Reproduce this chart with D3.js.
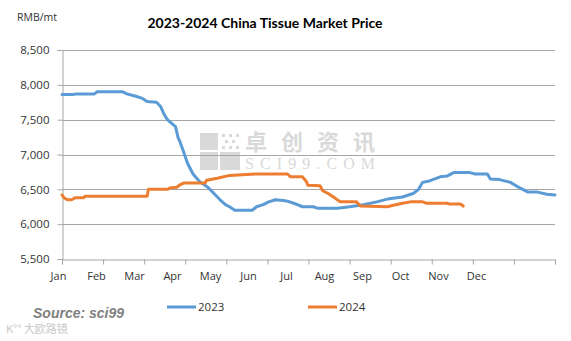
<!DOCTYPE html>
<html><head><meta charset="utf-8">
<script src="https://cdn.jsdelivr.net/npm/d3@7/dist/d3.min.js"></script>
<style>body{margin:0;background:#fff}svg{display:block}</style>
</head><body><svg id="c" width="571" height="341"></svg>
<script>
const months = ["Jan","Feb","Mar","Apr","May","Jun","Jul","Aug","Sep","Oct","Nov","Dec"];
const yTicks = [5500,6000,6500,7000,7500,8000,8500];
// day-of-year and price (RMB/mt)
const days2023 = [0,8,10,24,26,45,48,54,59,63,70,73,75,78,81,84,86,87,90,93,97,102,108,112,117,121,124,128,141,144,149,153,158,164,167,173,178,186,189,204,213,223,233,241,252,260,264,267,272,280,285,290,302,306,315,317,324,332,339,345,352,359,365];
const price2023 = [7860,7860,7870,7870,7900,7900,7870,7840,7810,7760,7750,7690,7600,7500,7450,7400,7240,7200,7040,6870,6720,6610,6530,6450,6350,6280,6250,6200,6200,6250,6280,6320,6350,6340,6330,6290,6250,6250,6230,6230,6250,6280,6320,6360,6390,6440,6500,6600,6620,6680,6690,6740,6740,6720,6720,6650,6640,6600,6520,6460,6460,6430,6420];
const days2024 = [0,1.5,4,7,10,16,17,63,64,78,80,85,87,90,106,107,115,124,143,167,169,178,181,182,191,193,197,201,206,218,221,241,243,252,258,267,270,285,287,295,297];
const price2024 = [6420,6380,6350,6350,6380,6380,6400,6400,6500,6500,6520,6530,6560,6590,6590,6630,6660,6700,6720,6720,6680,6680,6610,6560,6550,6480,6440,6390,6320,6320,6260,6250,6260,6300,6320,6320,6300,6300,6290,6290,6260];
const seriesNames = ["2023","2024"];
const colors = ["#5B9BD5","#ED7D31"];

const svg = d3.select("#c");
const L=62,R=555,T=50,B=259;
const x = d3.scaleLinear().domain([0,365]).range([L,R]);
const xLab = d3.scalePoint().domain(months).range([58,476]);
const y = d3.scaleLinear().domain([5500,8500]).range([B,T]);
const font = "'Open Sans', sans-serif";

// watermark
const wm = svg.append("g").attr("fill","#d9d9d9");
[[200,133,18,17],[200,152,18,18],[220,152,20,18]].forEach(r=>wm.append("rect").attr("x",r[0]).attr("y",r[1]).attr("width",r[2]).attr("height",r[3]));
[[222,134],[229,134],[236,134],[225,140],[232,140],[222,146],[236,146],[229,146]].forEach(p=>wm.append("rect").attr("x",p[0]).attr("y",p[1]).attr("width",3).attr("height",3));
wm.append("text").attr("x",245).attr("y",150).attr("font-family","'Noto Sans CJK SC'").attr("font-size",22).attr("font-weight","bold").attr("textLength",130).text("卓创资讯");
wm.append("text").attr("x",245).attr("y",169).attr("font-family","'Liberation Serif', serif").attr("font-size",16).attr("textLength",130).text("SCI99.COM");

// grid
svg.append("g").selectAll("line").data(yTicks.slice(1)).join("line")
  .attr("x1",L).attr("x2",R).attr("y1",d=>Math.round(y(d))+0.5).attr("y2",d=>Math.round(y(d))+0.5)
  .attr("stroke","#a6a6a6").attr("stroke-width",1);

// y axis
const ya = svg.append("g").attr("transform",`translate(${L+0.5},0)`)
  .call(d3.axisLeft(y).tickValues(yTicks).tickSize(5).tickPadding(8).tickFormat(d3.format(",")));
ya.select(".domain").attr("stroke","#a6a6a6");
ya.selectAll(".tick line").attr("stroke","#a6a6a6");
ya.selectAll("text").attr("font-family",font).attr("font-size",11.5).attr("fill","#333");

// x axis ticks
const bounds = d3.range(13).map(i=>i*365/12);
const xa = svg.append("g").attr("transform",`translate(0,${Math.round(B)+0.5})`)
  .call(d3.axisBottom(x).tickValues(bounds).tickSize(5).tickFormat(""));
xa.select(".domain").attr("stroke","#a6a6a6");
xa.selectAll(".tick line").attr("stroke","#a6a6a6");
const xl = svg.append("g").attr("transform",`translate(0,${B+13})`)
  .call(d3.axisBottom(xLab).tickSize(0).tickPadding(0));
xl.select(".domain").remove();
xl.selectAll("text").attr("font-family",font).attr("font-size",11).attr("fill","#333");

// lines
const line = d3.line().x(d=>x(d[0])).y(d=>y(d[1]));
const data = [d3.zip(days2023,price2023), d3.zip(days2024,price2024)];
svg.append("g").selectAll("path").data(data).join("path")
  .attr("d",line).attr("fill","none").attr("stroke",(d,i)=>colors[i])
  .attr("stroke-width",3).attr("stroke-linejoin","round").attr("stroke-linecap","round");

// title, unit
svg.append("text").attr("x",265).attr("y",28).attr("text-anchor","middle")
  .attr("font-family","Lato, sans-serif").attr("font-weight","bold").attr("font-size",14).attr("fill","#000")
  .text("2023-2024 China Tissue Market Price");
svg.append("text").attr("x",17).attr("y",21).attr("font-family",font).attr("font-size",10.5).attr("fill","#333").text("RMB/mt");

// legend
const lg = svg.append("g");
const lx = [167,308];
seriesNames.forEach((n,i)=>{
  lg.append("line").attr("x1",lx[i]).attr("x2",lx[i]+29).attr("y1",307).attr("y2",307).attr("stroke",colors[i]).attr("stroke-width",3);
  lg.append("text").attr("x",lx[i]+31).attr("y",311).attr("font-family",font).attr("font-size",11.5).attr("fill","#333").text(n);
});

// source
svg.append("text").attr("x",33).attr("y",318).attr("font-family","'Liberation Sans', Arial, sans-serif")
  .attr("font-weight","bold").attr("font-style","italic").attr("font-size",14).attr("fill","#7f7f7f").text("Source: sci99");
svg.append("text").attr("x",6).attr("y",333).attr("font-family","'Noto Sans CJK SC'").attr("font-size",11).attr("fill","#c8c8c8").text("K°° 大欧路镜");
</script></body></html>
